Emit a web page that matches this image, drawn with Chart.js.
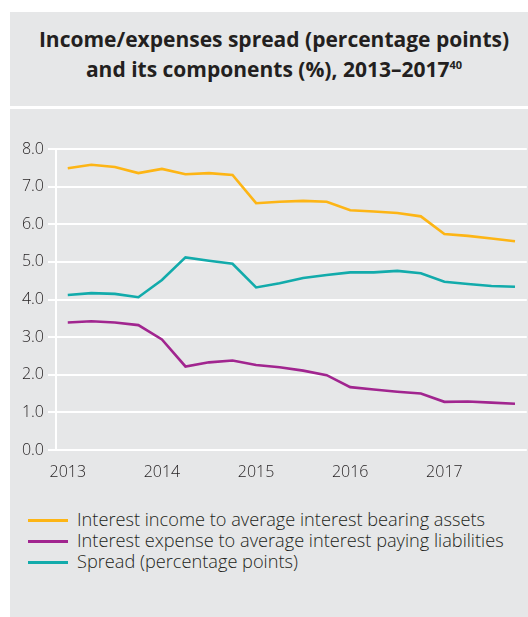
<!DOCTYPE html>
<html>
<head>
<meta charset="utf-8">
<script src="https://cdn.jsdelivr.net/npm/chart.js@4/dist/chart.umd.min.js"></script>
<style>
  body { margin: 0; background: #fff; font-family: "Open Sans", sans-serif; }
  .panel { position: absolute; left: 10px; width: 518px; background: #e6e7e8; }
  #titleBox { top: 12px; height: 94px; }
  #titleBox h1 {
    margin: 0; padding: 12px 0 0 10px; font-size: 21px; line-height: 30px;
    font-weight: 700; text-align: center; color: #231f20;
  }
  #titleBox sup { font-size: 11px; vertical-align: 8px; line-height: 0; }
  #chartBox { top: 109px; height: 508px; }
  #chartWrap { position: absolute; left: 0; top: 0; width: 518px; height: 390px; }
  #legend { position: absolute; left: 18px; top: 400px; }
  .item { height: 21px; line-height: 21px; font-size: 18.2px; font-weight: 300; color: #231f20; white-space: nowrap; }
  .item span { display: inline-block; width: 40px; height: 3px; vertical-align: middle; margin-right: 9px; position: relative; top: -1px; }
</style>
</head>
<body>
<div class="panel" id="titleBox">
  <h1>Income/expenses spread (percentage points)<br>and its components (%), 2013–2017<sup>40</sup></h1>
</div>
<div class="panel" id="chartBox">
  <div id="chartWrap"><canvas id="spreadChart"></canvas></div>
  <div id="legend"></div>
</div>
<script>
// quarters 2013 Q1 .. 2017 Q4, year shown on the first quarter only
const quarters = [
  '2013', '', '', '',
  '2014', '', '', '',
  '2015', '', '', '',
  '2016', '', '', '',
  '2017', '', '', ''
];

const incomeRate = [7.49, 7.58, 7.52, 7.36, 7.47, 7.33, 7.36, 7.31, 6.56, 6.60,
                    6.62, 6.60, 6.37, 6.34, 6.30, 6.21, 5.74, 5.69, 5.62, 5.55];
const expenseRate = [3.39, 3.42, 3.39, 3.32, 2.94, 2.22, 2.33, 2.38, 2.26, 2.20,
                     2.11, 1.99, 1.67, 1.61, 1.55, 1.50, 1.28, 1.29, 1.26, 1.23];
const spread = [4.12, 4.17, 4.15, 4.06, 4.52, 5.12, 5.03, 4.95, 4.32, 4.43,
                4.57, 4.65, 4.72, 4.72, 4.76, 4.70, 4.47, 4.41, 4.36, 4.34];

const yTicks = [0, 1, 2, 3, 4, 5, 6, 7, 8];

const series = [
  { label: 'Interest income to average interest bearing assets', data: incomeRate, color: '#fdb515' },
  { label: 'Interest expense to average interest paying liabilities', data: expenseRate, color: '#a1258f' },
  { label: 'Spread (percentage points)', data: spread, color: '#12abab' }
];

const textColor = '#231f20';
const tickFont = { family: 'Open Sans', size: 16, weight: '300' };

const ctx = document.getElementById('spreadChart').getContext('2d');
const chart = new Chart(ctx, {
  type: 'line',
  data: {
    labels: quarters,
    datasets: series.map(s => ({
      label: s.label,
      data: s.data,
      borderColor: s.color,
      backgroundColor: s.color,
      borderWidth: 2.6,
      pointRadius: 0,
      tension: 0,
      fill: false
    }))
  },
  options: {
    responsive: true,
    maintainAspectRatio: false,
    animation: false,
    layout: { padding: { top: 40, left: 0, right: 0, bottom: 0 } },
    plugins: {
      legend: { display: false },
      tooltip: { enabled: false }
    },
    scales: {
      x: {
        offset: true,
        grid: { display: false, drawTicks: false },
        border: { display: false },
        ticks: {
          autoSkip: false,
          maxRotation: 0,
          padding: 13,
          color: textColor,
          font: tickFont
        },
        afterFit: scale => { scale.height = 49; }
      },
      y: {
        min: 0,
        max: 8,
        afterBuildTicks: axis => { axis.ticks = yTicks.map(v => ({ value: v })); },
        grid: { color: '#ffffff', lineWidth: 2, tickLength: 8, drawTicks: true },
        border: { display: true, color: '#ffffff', width: 2 },
        ticks: {
          padding: 4,
          color: textColor,
          font: tickFont,
          callback: v => v.toFixed(1)
        },
        afterFit: scale => { scale.width = 46; }
      }
    }
  }
});

// legend drawn as html rows below the plot
const legend = document.getElementById('legend');
series.forEach(s => {
  const row = document.createElement('div');
  row.className = 'item';
  row.innerHTML = `<span style="background:${s.color}"></span>${s.label}`;
  legend.appendChild(row);
});
</script>
</body>
</html>
